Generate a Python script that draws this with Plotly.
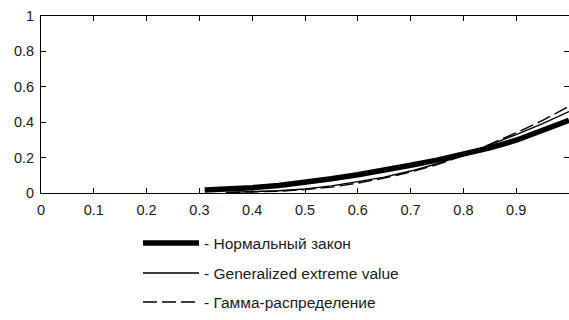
import plotly.graph_objects as go

# Data
x_normal = [0.31, 0.35, 0.40, 0.45, 0.50, 0.55, 0.60, 0.65, 0.70, 0.75, 0.80, 0.85, 0.90, 0.95, 1.00]
y_normal = [0.017, 0.022, 0.030, 0.043, 0.060, 0.080, 0.103, 0.128, 0.157, 0.186, 0.218, 0.255, 0.298, 0.350, 0.410]

x_gev = [0.35, 0.40, 0.45, 0.50, 0.55, 0.60, 0.65, 0.70, 0.75, 0.80, 0.85, 0.90, 0.95, 1.00]
y_gev = [0.003, 0.007, 0.013, 0.023, 0.040, 0.064, 0.090, 0.124, 0.165, 0.214, 0.270, 0.330, 0.392, 0.460]

x_gamma = [0.35, 0.40, 0.45, 0.50, 0.55, 0.60, 0.65, 0.70, 0.75, 0.80, 0.85, 0.90, 0.95, 1.00]
y_gamma = [0.002, 0.005, 0.010, 0.019, 0.033, 0.056, 0.084, 0.118, 0.160, 0.211, 0.275, 0.340, 0.410, 0.490]

legend_labels = ["- Нормальный закон", "- Generalized extreme value", "- Гамма-распределение"]
x_ticks = [0, 0.1, 0.2, 0.3, 0.4, 0.5, 0.6, 0.7, 0.8, 0.9]
x_tick_text = ["0", "0.1", "0.2", "0.3", "0.4", "0.5", "0.6", "0.7", "0.8", "0.9"]
y_ticks = [0, 0.2, 0.4, 0.6, 0.8, 1]
y_tick_text = ["0", "0.2", "0.4", "0.6", "0.8", "1"]

FONT = "Liberation Sans, Arial"
TXT = "#1a1a1a"
DASH = "14px,5px"
THIN = 1.4

fig = go.Figure()
fig.add_trace(go.Scatter(x=x_gamma, y=y_gamma, mode="lines",
                         line=dict(color="black", width=THIN, dash=DASH), name=legend_labels[2]))
fig.add_trace(go.Scatter(x=x_gev, y=y_gev, mode="lines",
                         line=dict(color="black", width=THIN), name=legend_labels[1]))
fig.add_trace(go.Scatter(x=x_normal, y=y_normal, mode="lines",
                         line=dict(color="black", width=5.5), name=legend_labels[0]))

W, H = 569, 320
L, R, T, B = 41, 0, 16, 127

ph = H - T - B
pw = W - L - R
def px_to_paper_x(px):
    return (px - L) / pw
def px_to_paper_y(py):
    return (H - B - py) / ph

rows_y = [243, 273, 302]
styles = [dict(width=5.5, dash="solid"), dict(width=THIN, dash="solid"), dict(width=THIN, dash=DASH)]
shapes = []
annotations = []
for yy, st, lab in zip(rows_y, styles, legend_labels):
    shapes.append(dict(type="line", xref="paper", yref="paper",
                       x0=px_to_paper_x(143), x1=px_to_paper_x(199),
                       y0=px_to_paper_y(yy), y1=px_to_paper_y(yy),
                       line=dict(color="black", width=st["width"], dash=st["dash"])))
    annotations.append(dict(xref="paper", yref="paper",
                            x=px_to_paper_x(202), y=px_to_paper_y(yy),
                            text=lab, showarrow=False, xanchor="left", yanchor="middle",
                            font=dict(family=FONT, size=15.5, color=TXT)))

fig.update_layout(
    width=W, height=H,
    margin=dict(l=L, r=R, t=T, b=B),
    paper_bgcolor="white", plot_bgcolor="white",
    showlegend=False,
    shapes=shapes, annotations=annotations,
    font=dict(family=FONT, size=15, color=TXT),
)
fig.update_xaxes(range=[0, 1], tickvals=x_ticks, ticktext=x_tick_text,
                 showline=True, linecolor="black", linewidth=1, mirror="ticks",
                 ticks="inside", ticklen=5, tickcolor="black", ticklabelstandoff=4,
                 tickfont=dict(family=FONT, size=14.5, color=TXT),
                 showgrid=False, zeroline=False, fixedrange=True)
fig.update_yaxes(range=[0, 1], tickvals=y_ticks, ticktext=y_tick_text,
                 showline=True, linecolor="black", linewidth=1, mirror="ticks",
                 ticks="inside", ticklen=5, tickcolor="black", ticklabelstandoff=3,
                 tickfont=dict(family=FONT, size=14.5, color=TXT),
                 showgrid=False, zeroline=False, fixedrange=True)

fig.write_html("out.html", config={"displayModeBar": False})
